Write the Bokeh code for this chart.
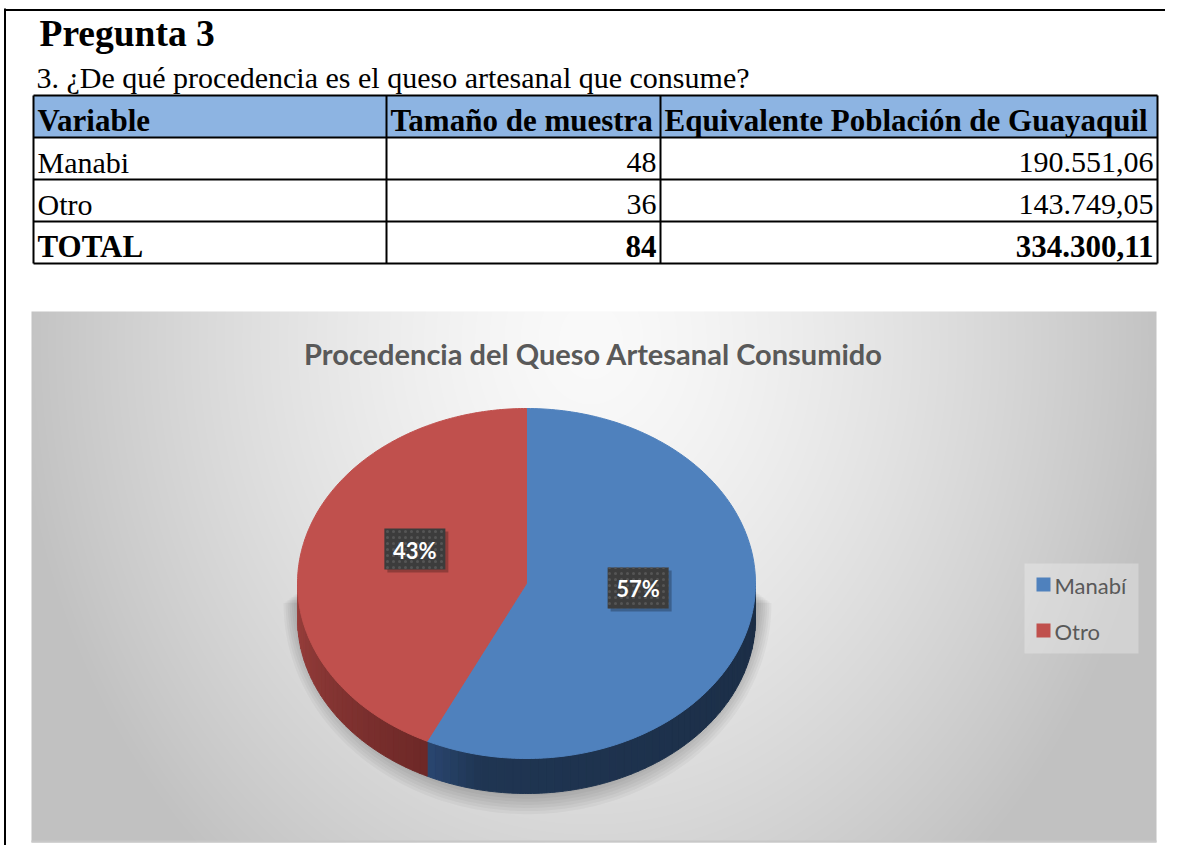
import numpy as np
from bokeh.plotting import figure
from bokeh.models import Range1d
from bokeh.embed import file_html
from bokeh.resources import INLINE
from bokeh.core.properties import value

# ---------------- data ----------------
page_title = "Pregunta 3"
question = "3. ¿De qué procedencia es el queso artesanal que consume?"
table_headers = ["Variable", "Tamaño de muestra", "Equivalente Población de Guayaquil"]
variables = ["Manabi", "Otro"]
sample_sizes = [48, 36]
population = [190551.06, 143749.05]
total_label = "TOTAL"
chart_title = "Procedencia del Queso Artesanal Consumido"
legend_labels = ["Manabí", "Otro"]
slice_colors = ["#4F81BD", "#C0504D"]


def es_num(v):
    s = f"{v:,.2f}"
    return s.replace(",", "X").replace(".", ",").replace("X", ".")


W, H = 1165, 845
p = figure(width=W, height=H, x_range=Range1d(0, W), y_range=Range1d(H, 0),
           output_backend="svg", toolbar_location=None, min_border=0,
           x_axis_location=None, y_axis_location=None)
p.grid.visible = False
p.outline_line_color = None
p.background_fill_color = "white"
p.border_fill_color = "white"

SERIF = value("Liberation Serif")
SANS = value("Lato")

# page frame
p.segment(x0=[4.5, 4], y0=[8, 9.5], x1=[4.5, W], y1=[H, 9.5], line_color="black", line_width=2)

# heading texts
p.text(x=[39], y=[33], text=[page_title], text_font=SERIF, text_font_size="37.5px",
       text_font_style="bold", text_color="black", text_baseline="middle")
p.text(x=[36], y=[77], text=[question], text_font=SERIF, text_font_size="30px",
       text_color="black", text_baseline="middle")

# ---------------- table ----------------
col_x = [33, 386, 660, 1157]
row_y = [95, 137, 179, 221, 263]
p.quad(left=[col_x[0]], right=[col_x[-1]], top=[row_y[0]], bottom=[row_y[1]],
       fill_color="#8DB4E2", line_color=None)
p.segment(x0=[col_x[0]] * len(row_y), x1=[col_x[-1]] * len(row_y), y0=row_y, y1=row_y,
          line_color="black", line_width=2)
p.segment(x0=col_x, x1=col_x, y0=[row_y[0]] * len(col_x), y1=[row_y[-1]] * len(col_x),
          line_color="black", line_width=2)

TY = -17  # text middle offset from row bottom
hx = [col_x[0] + 4, col_x[1] + 4, col_x[2] + 4]
p.text(x=hx, y=[row_y[1] + TY] * 3, text=table_headers, text_font=SERIF, text_font_size="31px",
       text_font_style="bold", text_color="black", text_baseline="middle")

body_rows = len(variables)
body_y = [row_y[i + 2] + TY for i in range(body_rows)]
p.text(x=[col_x[0] + 4] * body_rows, y=body_y, text=variables, text_font=SERIF,
       text_font_size="30px", text_color="black", text_baseline="middle")
p.text(x=[col_x[2] - 4] * body_rows, y=body_y, text=[str(v) for v in sample_sizes],
       text_font=SERIF, text_font_size="30px", text_color="black",
       text_baseline="middle", text_align="right")
p.text(x=[col_x[3] - 4] * body_rows, y=body_y, text=[es_num(v) for v in population],
       text_font=SERIF, text_font_size="30px", text_color="black",
       text_baseline="middle", text_align="right")
tot_y = row_y[-1] + TY
p.text(x=[col_x[0] + 4], y=[tot_y], text=[total_label], text_font=SERIF, text_font_size="31px",
       text_font_style="bold", text_color="black", text_baseline="middle")
p.text(x=[col_x[2] - 4, col_x[3] - 4], y=[tot_y, tot_y],
       text=[str(sum(sample_sizes)), es_num(sum(population))],
       text_font=SERIF, text_font_size="31px", text_font_style="bold", text_color="black",
       text_baseline="middle", text_align="right")

# ---------------- chart background (radial gray gradient) ----------------
bx0, bx1, by0, by1 = 31, 1156, 311, 842
bw, bh = bx1 - bx0, by1 - by0
gx, gy = np.meshgrid(np.arange(bw) + bx0, np.arange(bh) + by0)
t = np.sqrt(((gx - 590) / 580.0) ** 2 + ((gy - 340) / 700.0) ** 2)
t = np.clip(t, 0, 1) ** 1.4
g = (250 - (250 - 193) * t).astype(np.uint8)
img = np.empty((bh, bw), dtype=np.uint32)
view = img.view(dtype=np.uint8).reshape((bh, bw, 4))
view[:, :, 0] = g
view[:, :, 1] = g
view[:, :, 2] = g
view[:, :, 3] = 255
p.image_rgba(image=[img], x=bx0, y=by0, dw=bw, dh=bh)
p.segment(x0=[bx0], x1=[bx1], y0=[by1 - 1], y1=[by1 - 1], line_color="#c8c8c8", line_width=2)

# chart title
p.text(x=[593], y=[353], text=[chart_title], text_font=SANS, text_font_size="29px",
       text_font_style="bold", text_color="#595959", text_align="center",
       text_baseline="middle")

# ---------------- 3D pie ----------------
cx, cy, rx, ry, depth = 526.0, 583.0, 229.0, 175.0, 35.0
fracs = np.array(sample_sizes, dtype=float) / sum(sample_sizes)
edges = np.concatenate([[0.0], np.cumsum(fracs)]) * 2 * np.pi  # clockwise from top


def ex(th):
    return cx + rx * np.sin(th)


def ey(th, dy=0.0):
    return cy - ry * np.cos(th) + dy


# soft shadow hugging the lower part of the pie
shx, shy = [], []
for k in range(8):
    th = np.linspace(np.pi / 2, 3 * np.pi / 2, 120)
    yc = 592 + 1.5 * k
    rxx = 230 + 2 * k
    ryy = 200 + 1.6 * k
    shx.append(list(527 + rxx * np.sin(th)))
    shy.append(list(yc - ryy * np.cos(th)))
p.patches(xs=shx, ys=shy, fill_color="black", fill_alpha=0.035, line_color=None)


def hex2rgb(h):
    return np.array([int(h[i:i + 2], 16) for i in (1, 3, 5)], dtype=float)


def mix(c1, c2, f):
    c = hex2rgb(c1) * (1 - f) + hex2rgb(c2) * f
    return "#%02x%02x%02x" % tuple(int(round(v)) for v in c)


# sides (visible between theta = pi/2 and 3pi/2), drawn as shaded strips
side_specs = [
    (np.pi / 2, edges[1] - 0.25, "#1b2d45", "#1f3552"),
    (edges[1] - 0.25, edges[1], "#1f3552", "#2a4670"),
    (edges[1], 3 * np.pi / 2, "#6d2827", "#9a403d"),
]
sxs, sys_, scol = [], [], []
for a0, a1, c0, c1 in side_specs:
    if a1 <= a0:
        continue
    n = max(2, int(np.degrees(a1 - a0) / 2))
    bnds = np.linspace(a0, a1, n + 1)
    for i in range(n):
        th = np.linspace(bnds[i], bnds[i + 1], 4)
        xs = list(ex(th)) + list(ex(th[::-1]))
        ys = list(ey(th)) + list(ey(th[::-1], depth))
        sxs.append(xs)
        sys_.append(ys)
        scol.append(mix(c0, c1, (i + 0.5) / n))
p.patches(xs=sxs, ys=sys_, fill_color=scol, line_color=scol, line_width=1)

# top faces
txs, tys = [], []
for i in range(len(fracs)):
    th = np.linspace(edges[i], edges[i + 1], 200)
    txs.append([cx] + list(ex(th)))
    tys.append([cy] + list(ey(th)))
p.patches(xs=txs, ys=tys, fill_color=slice_colors, line_color=slice_colors, line_width=1)

# data labels
mids = (edges[:-1] + edges[1:]) / 2
lx = cx + 0.5 * rx * np.sin(mids)
ly = cy - 0.5 * ry * np.cos(mids) - 15
pct = [f"{round(f * 100):.0f}%" for f in fracs]
p.rect(x=lx + 3, y=ly + 3, width=61, height=41, fill_color="black", fill_alpha=0.25, line_color=None)
p.rect(x=lx, y=ly, width=61, height=41, fill_color="#3c3c3c", line_color=None,
       hatch_pattern="dot", hatch_color="#555555", hatch_scale=6, hatch_weight=1)
p.text(x=lx, y=ly + 1, text=pct, text_font=SANS, text_font_size="22px", text_font_style="bold",
       text_color="white", text_align="center", text_baseline="middle")

# ---------------- legend ----------------
p.quad(left=[1024], right=[1138], top=[563], bottom=[653], fill_color="white",
       fill_alpha=0.28, line_color=None)
leg_y = [584, 630]
p.rect(x=[1043] * 2, y=leg_y, width=14, height=14, fill_color=slice_colors, line_color=None)
p.text(x=[1054] * 2, y=[v + 1 for v in leg_y], text=legend_labels, text_font=SANS,
       text_font_size="22px", text_color="#595959", text_baseline="middle")

open("out.html", "w").write(file_html(p, INLINE))
